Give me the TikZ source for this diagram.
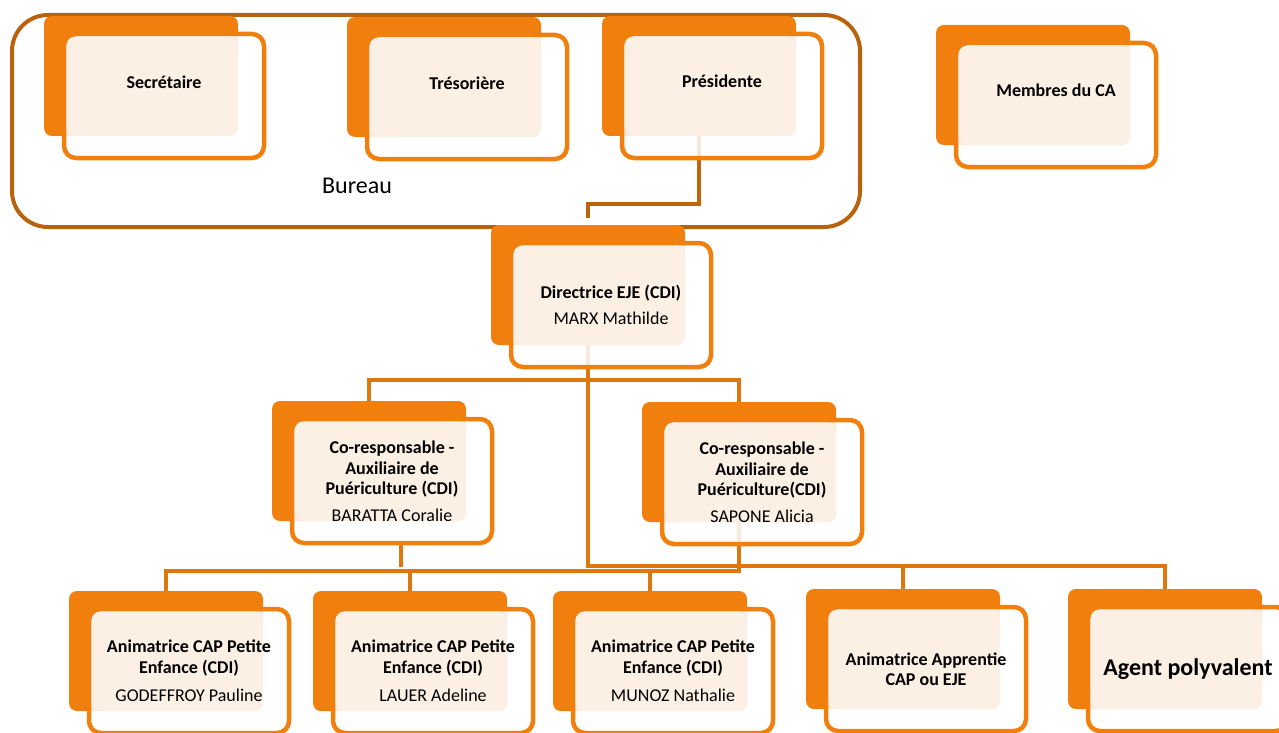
\documentclass[tikz,border=0pt]{standalone}
\usepackage{fontspec}
\setmainfont{Carlito}
\usetikzlibrary{calc,positioning,backgrounds}
\definecolor{boxorange}{RGB}{240,127,14}
\definecolor{boxcream}{RGB}{252,239,227}
\definecolor{bureauline}{RGB}{185,98,14}
\definecolor{linkcol}{RGB}{224,118,14}
\definecolor{linkdark}{RGB}{190,101,12}
\tikzstyle{backbox}=[anchor=north west,fill=boxorange,rounded corners=8pt,minimum width=194pt,minimum height=120pt,inner sep=0pt,outer sep=0pt]
\tikzstyle{frontbox}=[anchor=north west,draw=boxorange,line width=4.5pt,fill=white,fill opacity=0.85,rounded corners=12pt,minimum width=200pt,minimum height=124pt,inner sep=0pt,outer sep=0pt]
\tikzstyle{bureau}=[anchor=north west,draw=bureauline,line width=4pt,rounded corners=36pt,minimum width=848pt,minimum height=212pt,inner sep=0pt,outer sep=0pt]
\tikzstyle{boxtext}=[align=center,inner sep=0pt,font=\fontsize{18}{20.5}\selectfont\bfseries]
\tikzstyle{link}=[draw=linkcol,line width=4pt]

\begin{document}
\begin{tikzpicture}[x=1pt,y=-1pt]
    \useasboundingbox (0,0) rectangle (1279,733);

    % the Bureau frame
    \node[bureau] (bureau) at (12,15) {};
    \node[font=\fontsize{24}{28}\selectfont] (bureautxt) at (357,186) {Bureau};

    % double boxes
    \foreach \pos/ \name in {{(44,16)/sec}, {(347,17)/tre}, {(602,16)/pres}, {(936,25)/ca},
        {(491,225)/dir}, {(272,401)/cra}, {(642,402)/crb},
        {(69,591)/anima}, {(313,591)/animb}, {(553,591)/animc}, {(806,589)/animd}, {(1068,589)/agent}}
    {
        \node[backbox] (back\name) at \pos {};
        \node[frontbox] (\name) at ($(back\name.north west)+(20,18)$) {};
        \fill[boxcream, rounded corners=9pt] ($(\name.north west)+(2.5,2.5)$) rectangle (back\name.south east);
    }

    % texts
    \node[boxtext] (sectxt) at ($(sec.center)+(0,-14)$) {Secrétaire};
    \node[boxtext] (tretxt) at ($(tre.center)+(0,-14)$) {Trésorière};
    \node[boxtext] (prestxt) at ($(pres.center)+(0,-15)$) {Présidente};
    \node[boxtext] (catxt) at ($(ca.center)+(0,-15)$) {Membres du CA};
    \node[boxtext] (dirtxt) at (dir.center) {Directrice EJE (CDI)\\[6pt]{\mdseries MARX Mathilde}};
    \node[boxtext] (cratxt) at (cra.center) {Co-responsable -\\Auxiliaire de\\Puériculture (CDI)\\[6pt]{\mdseries BARATTA Coralie}};
    \node[boxtext] (crbtxt) at (crb.center) {Co-responsable -\\Auxiliaire de\\Puériculture(CDI)\\[6pt]{\mdseries SAPONE Alicia}};
    \node[boxtext] (animatxt) at (anima.center) {Animatrice CAP Petite\\Enfance (CDI)\\[8pt]{\mdseries GODEFFROY Pauline}};
    \node[boxtext] (animbtxt) at (animb.center) {Animatrice CAP Petite\\Enfance (CDI)\\[8pt]{\mdseries LAUER Adeline}};
    \node[boxtext] (animctxt) at (animc.center) {Animatrice CAP Petite\\Enfance (CDI)\\[8pt]{\mdseries MUNOZ Nathalie}};
    \node[boxtext] (animdtxt) at (animd.center) {Animatrice Apprentie\\CAP ou EJE};
    \node[boxtext, font=\fontsize{24}{28}\selectfont\bfseries] (agenttxt) at (agent.center) {Agent polyvalent};

    % connectors
    \begin{pgfonlayer}{background}
        \draw[link, draw=linkdark] (backpres.south) -- ++(0,68) -| ($(backdir.north)+(0,-7)$);
        \draw[link] (backcra.north) -- ++(0,-21) -| (backcrb.north);
        \draw[link] (backdir.south) -- ++(0,221) -| (backagent.north);
        \draw[link] (backanima.north) -- ++(0,-20) -| (backcrb.south);
        \draw[link] ($(cra.south)+(9,0)$) -- ++(0,24);
        \draw[link] (backanimb.north) -- ++(0,-20);
        \draw[link] (backanimc.north) -- ++(0,-20);
        \draw[link] (backanimd.north) -- ++(0,-22);
    \end{pgfonlayer}
\end{tikzpicture}
\end{document}
